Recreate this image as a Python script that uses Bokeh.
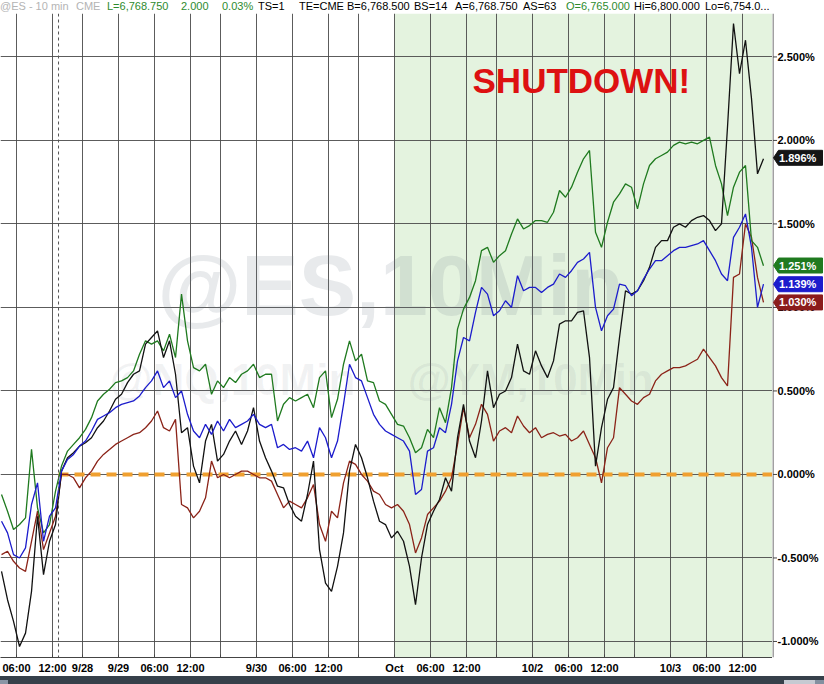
from bokeh.plotting import figure
from bokeh.models import (FixedTicker, BoxAnnotation, Label, Span, Div, Range1d, ColumnDataSource)
from bokeh.layouts import column, row
from bokeh.core.properties import value
from bokeh.embed import file_html
from bokeh.resources import INLINE

# ---------------- data ----------------
# sample times in trading hours (10-minute futures chart, sessions joined)
hours = [3.5 + k for k in range(128)]

green = [-0.12, -0.22, -0.33, -0.30, -0.26, 0.15, -0.20, -0.35, -0.30, -0.10,
         0.05, 0.14, 0.18, 0.22, 0.27, 0.34, 0.44, 0.48, 0.51, 0.55,
         0.56, 0.58, 0.62, 0.72, 0.80, 0.78, 0.80, 0.74, 0.84, 0.70,
         1.08, 0.80, 0.64, 0.62, 0.66, 0.48, 0.56, 0.52, 0.58, 0.55,
         0.60, 0.62, 0.66, 0.58, 0.60, 0.60, 0.32, 0.42, 0.46, 0.44,
         0.46, 0.48, 0.40, 0.58, 0.62, 0.34, 0.45, 0.66, 0.80, 0.68,
         0.72, 0.56, 0.55, 0.44, 0.42, 0.36, 0.30, 0.29, 0.22, 0.13,
         0.16, 0.27, 0.22, 0.40, 0.31, 0.52, 0.87, 0.99, 1.06, 1.16,
         1.34, 1.36, 1.27, 1.31, 1.34, 1.44, 1.53, 1.47, 1.49, 1.52,
         1.52, 1.51, 1.57, 1.70, 1.66, 1.72, 1.81, 1.89, 1.94, 1.45,
         1.36, 1.51, 1.63, 1.68, 1.74, 1.72, 1.59, 1.74, 1.85, 1.89,
         1.91, 1.93, 1.97, 1.99, 1.98, 1.99, 1.98, 2.00, 2.02, 1.85,
         1.74, 1.55, 1.72, 1.81, 1.85, 1.40, 1.36, 1.25]

blue = [-0.28, -0.35, -0.48, -0.50, -0.44, -0.18, -0.05, -0.40, -0.25, -0.20,
        0.02, 0.09, 0.12, 0.17, 0.20, 0.26, 0.33, 0.35, 0.37, 0.40,
        0.42, 0.43, 0.44, 0.47, 0.52, 0.56, 0.62, 0.52, 0.56, 0.46,
        0.50, 0.36, 0.26, 0.22, 0.30, 0.24, 0.32, 0.26, 0.33, 0.28,
        0.30, 0.32, 0.36, 0.30, 0.28, 0.30, 0.16, 0.18, 0.15, 0.16,
        0.14, 0.20, 0.10, 0.28, 0.22, 0.10, 0.20, 0.42, 0.66, 0.58,
        0.56, 0.46, 0.36, 0.30, 0.26, 0.24, 0.22, 0.20, 0.14, -0.12,
        -0.09, 0.14, 0.16, 0.28, 0.25, 0.42, 0.68, 0.82, 0.80, 0.97,
        1.12, 1.08, 0.95, 0.98, 1.04, 1.00, 1.19, 1.10, 1.12, 1.12,
        1.09, 1.12, 1.14, 1.20, 1.18, 1.22, 1.27, 1.29, 1.33, 1.00,
        0.86, 0.95, 0.99, 1.14, 1.13, 1.07, 1.10, 1.17, 1.23, 1.28,
        1.28, 1.31, 1.34, 1.36, 1.36, 1.37, 1.38, 1.40, 1.34, 1.28,
        1.20, 1.16, 1.42, 1.48, 1.56, 1.36, 1.00, 1.14]

brown = [-0.48, -0.46, -0.52, -0.56, -0.58, -0.40, -0.22, -0.45, -0.35, -0.25,
         0.00, 0.00, -0.02, -0.08, -0.02, 0.02, 0.08, 0.12, 0.15, 0.18,
         0.20, 0.22, 0.24, 0.25, 0.28, 0.32, 0.38, 0.28, 0.26, 0.33,
         -0.18, -0.20, -0.26, -0.22, -0.14, 0.08, -0.02, 0.00, -0.02, 0.00,
         0.02, 0.02, 0.00, -0.02, -0.02, -0.04, -0.12, -0.20, -0.16, -0.18,
         -0.20, -0.14, -0.06, -0.30, -0.40, -0.22, -0.26, -0.05, 0.08, 0.06,
         0.00, -0.04, -0.10, -0.12, -0.18, -0.20, -0.18, -0.22, -0.30, -0.47,
         -0.38, -0.24, -0.20, -0.16, -0.10, -0.02, 0.18, 0.40, 0.22, 0.30,
         0.42, 0.36, 0.20, 0.26, 0.28, 0.25, 0.35, 0.29, 0.25, 0.28,
         0.22, 0.24, 0.25, 0.23, 0.24, 0.20, 0.22, 0.26, 0.18, 0.10,
         -0.05, 0.16, 0.22, 0.52, 0.48, 0.44, 0.42, 0.46, 0.48, 0.56,
         0.60, 0.62, 0.64, 0.64, 0.65, 0.67, 0.69, 0.75, 0.70, 0.65,
         0.58, 0.53, 1.18, 1.20, 1.50, 1.42, 1.18, 1.03]

black = [-0.58, -0.75, -0.88, -1.03, -0.95, -0.70, -0.25, -0.60, -0.40, -0.30,
         0.02, 0.10, 0.13, 0.17, 0.19, 0.22, 0.28, 0.32, 0.38, 0.45,
         0.48, 0.55, 0.60, 0.62, 0.78, 0.82, 0.86, 0.70, 0.80, 0.60,
         0.25, 0.28, 0.05, -0.05, 0.20, 0.30, 0.08, 0.12, 0.20, 0.26,
         0.18, 0.26, 0.40, 0.20, 0.10, 0.02, -0.07, -0.08, -0.18, -0.25,
         -0.28, -0.12, 0.08, -0.45, -0.65, -0.70, -0.55, -0.35, 0.02, 0.18,
         0.10, -0.02, -0.16, -0.28, -0.30, -0.38, -0.34, -0.40, -0.55, -0.78,
         -0.50, -0.30, -0.22, -0.15, -0.02, -0.10, 0.22, 0.42, 0.20, 0.10,
         0.32, 0.62, 0.40, 0.48, 0.50, 0.58, 0.78, 0.62, 0.60, 0.74,
         0.65, 0.58, 0.68, 0.90, 0.92, 0.92, 0.97, 0.98, 0.70, 0.05,
         0.28, 0.45, 0.52, 0.82, 1.10, 1.08, 1.10, 1.16, 1.24, 1.36,
         1.40, 1.40, 1.48, 1.50, 1.48, 1.52, 1.54, 1.55, 1.52, 1.46,
         1.50, 2.08, 2.70, 2.40, 2.60, 2.25, 1.80, 1.89]

last_values = [1.896, 1.251, 1.139, 1.030]   # black, green, blue, brown tags

anchor_time = 13.0     # 9/26 13:00, base of % change
oct_time = 69.0        # start of shaded "shutdown" period

x_ticks = [6, 12, 17, 23, 29, 35, 40, 46, 52, 58, 63, 69, 75, 81, 86, 92, 98, 104, 109, 115, 121, 127]
x_labels = ["06:00", "12:00", "9/28", "9/29", "06:00", "12:00", "", "9/30", "06:00", "12:00", "",
            "Oct", "06:00", "12:00", "", "10/2", "06:00", "12:00", "", "10/3", "06:00", "12:00"]
y_ticks = [-1.0, -0.5, 0.0, 0.5, 1.0, 1.5, 2.0, 2.5]

header = [("@ES - 10 min", "#b4b4b4"), ("CME", "#b4b4b4"), ("L=6,768.750", "#2e8b2e"),
          ("2.000", "#2e8b2e"), ("0.03%", "#2e8b2e"), ("TS=1", "#000000"), ("TE=CME", "#000000"),
          ("B=6,768.500", "#000000"), ("BS=14", "#000000"), ("A=6,768.750", "#000000"),
          ("AS=63", "#000000"), ("O=6,765.000", "#2e8b2e"), ("Hi=6,800.000", "#000000"),
          ("Lo=6,754.0...", "#000000")]

# ---------------- layout constants ----------------
FONT = "Liberation Sans"
W = 824
HEAD_H, BAR_H = 13, 8
H = 684 - HEAD_H - BAR_H
AX_W = 52                      # right scale panel width
PW = W - AX_W                  # main plot width
BB = 19
FH = H - BB
Y0, Y1 = -1.096, 2.76

yr = Range1d(Y0, Y1)
p = figure(width=PW, height=H, output_backend="svg", toolbar_location=None,
           x_range=Range1d(3.33, 132.0), y_range=yr, y_axis_location=None,
           min_border_left=0, min_border_right=0, min_border_top=0, min_border_bottom=BB)
p.outline_line_color = None
p.background_fill_color = "white"
p.border_fill_color = "white"

# shaded period
p.add_layout(BoxAnnotation(left=oct_time, fill_color="#e4f3df", fill_alpha=1.0,
                           line_color=None, level="image"))

# watermarks
p.add_layout(Label(x=29.5, y=0.844, text="@ES,10Min", text_font=FONT, text_font_style="bold",
                   text_font_size="86px", text_color="#707a88", text_alpha=0.16, level="underlay"))
p.add_layout(Label(x=71.2, y=0.42, text="@YM,10Min", text_font=FONT, text_font_style="bold",
                   text_font_size="44px", text_color="#707a88", text_alpha=0.10, level="underlay"))
p.add_layout(Label(x=21.5, y=0.42, text="@NQ,10Min", text_font=FONT, text_font_style="bold",
                   text_font_size="44px", text_color="#707a88", text_alpha=0.09, level="underlay"))

# grids
p.xgrid.ticker = FixedTicker(ticks=x_ticks)
p.ygrid.ticker = FixedTicker(ticks=y_ticks)
for g in (p.xgrid, p.ygrid):
    g.grid_line_color = "#4a4a4a"
    g.grid_line_alpha = 0.9
    g.grid_line_width = 1

p.add_layout(Span(location=anchor_time, dimension="height", line_color="#555555",
                  line_dash="3 3", line_width=1))

# zero line from anchor
p.line([anchor_time, p.x_range.end], [0, 0], line_color="#f0a030", line_width=4, line_dash="10 6")

# series
p.line(hours, brown, line_color="#8b2318", line_width=1.3)
p.line(hours, green, line_color="#1f7a1f", line_width=1.3)
p.line(hours, black, line_color="#111111", line_width=1.3)
p.line(hours, blue, line_color="#1c1ccc", line_width=1.3)

# x axis
p.xaxis.ticker = FixedTicker(ticks=x_ticks)
p.xaxis.major_label_overrides = {t: l for t, l in zip(x_ticks, x_labels)}
p.xaxis.axis_line_color = "#444444"
p.xaxis.major_tick_line_color = "#444444"
p.xaxis.minor_tick_line_color = None
p.xaxis.major_tick_in = 3
p.xaxis.major_tick_out = 0
p.xaxis.major_label_standoff = 4
p.xaxis.major_label_text_font = FONT
p.xaxis.major_label_text_font_style = "bold"
p.xaxis.major_label_text_font_size = "11px"
p.xaxis.major_label_text_color = "#000000"

# title text
p.add_layout(Label(x=82.0, y=2.245, text="SHUTDOWN!", text_font=FONT, text_font_style="bold",
                   text_font_size="35px", text_color="#dd1111"))

# ---------------- right price scale panel (shares the y scale) ----------------
r = figure(width=AX_W, height=H, output_backend="svg", toolbar_location=None,
           x_range=Range1d(0, AX_W), y_range=yr, x_axis_location=None, y_axis_location=None,
           min_border_left=0, min_border_right=0, min_border_top=0, min_border_bottom=BB)
r.outline_line_color = None
r.background_fill_color = "white"
r.border_fill_color = "white"
r.xgrid.visible = False
r.ygrid.visible = False

r.segment(x0=0.5, x1=0.5, y0=Y0, y1=Y1, line_color="#444444", line_width=1)
r.segment(x0=[0.5] * len(y_ticks), x1=[4.5] * len(y_ticks), y0=y_ticks, y1=y_ticks,
          line_color="#444444", line_width=1)
r.text(x=[5] * len(y_ticks), y=y_ticks, text=["%.3f%%" % t for t in y_ticks],
       text_font=value(FONT), text_font_style="bold", text_font_size="11px",
       text_color="#000000", text_baseline="middle", text_align="left")

# value tags (arrow-shaped)
tag_colors = ["#151515", "#1f7a1f", "#1c1ccc", "#8b1c1c"]
unit = (Y1 - Y0) / FH          # data units per pixel
hh = 7.5 * unit
tag_src = ColumnDataSource(dict(
    xs=[[1, 6, 50, 50, 6] for _ in last_values],
    ys=[[v, v + hh, v + hh, v - hh, v - hh] for v in last_values],
    color=tag_colors, y=last_values, label=["%.3f%%" % v for v in last_values],
    tx=[6.5] * len(last_values)))
r.patches("xs", "ys", source=tag_src, fill_color="color", line_color="color")
r.text(x="tx", y="y", text="label", source=tag_src, text_font=value(FONT), text_font_style="bold",
       text_font_size="11px", text_color="white", text_baseline="middle", text_align="left")

# header line (quote fields)
hx = [0, 76, 107, 181, 222, 258, 299, 347, 414, 455, 523, 566, 634, 705]
spans = "".join(
    '<span style="position:absolute;left:%dpx;top:0px;color:%s;white-space:nowrap">%s</span>' % (xx, col, txt)
    for (txt, col), xx in zip(header, hx))
head = Div(width=W, height=HEAD_H, margin=0,
           text='<div style="position:relative;width:%dpx;height:%dpx;font-family:\'Liberation Sans\';'
                'font-size:11px;line-height:%dpx;overflow:hidden">%s</div>' % (W, HEAD_H, HEAD_H, spans),
           styles={"overflow": "hidden", "background-color": "white"})

# scroll bar strip at the bottom
bar_html = ('<div style="position:relative;width:%dpx;height:%dpx;background:#36404a;overflow:hidden">'
            '<div style="position:absolute;left:0;top:0;width:8px;height:%dpx;background:#8a95a5"></div>'
            '<div style="position:absolute;left:784px;top:0;width:31px;height:%dpx;background:#c6cad2"></div>'
            '<div style="position:absolute;left:815px;top:0;width:9px;height:%dpx;background:#8390a0"></div>'
            '</div>') % (W, BAR_H, BAR_H, BAR_H, BAR_H)
bar = Div(width=W, height=BAR_H, margin=0, text=bar_html, styles={"background-color": "#36404a",
                                                                  "overflow": "hidden"})
layout = column(head, row(p, r, spacing=0), bar, spacing=0)

open("out.html", "w").write(file_html(layout, INLINE))
